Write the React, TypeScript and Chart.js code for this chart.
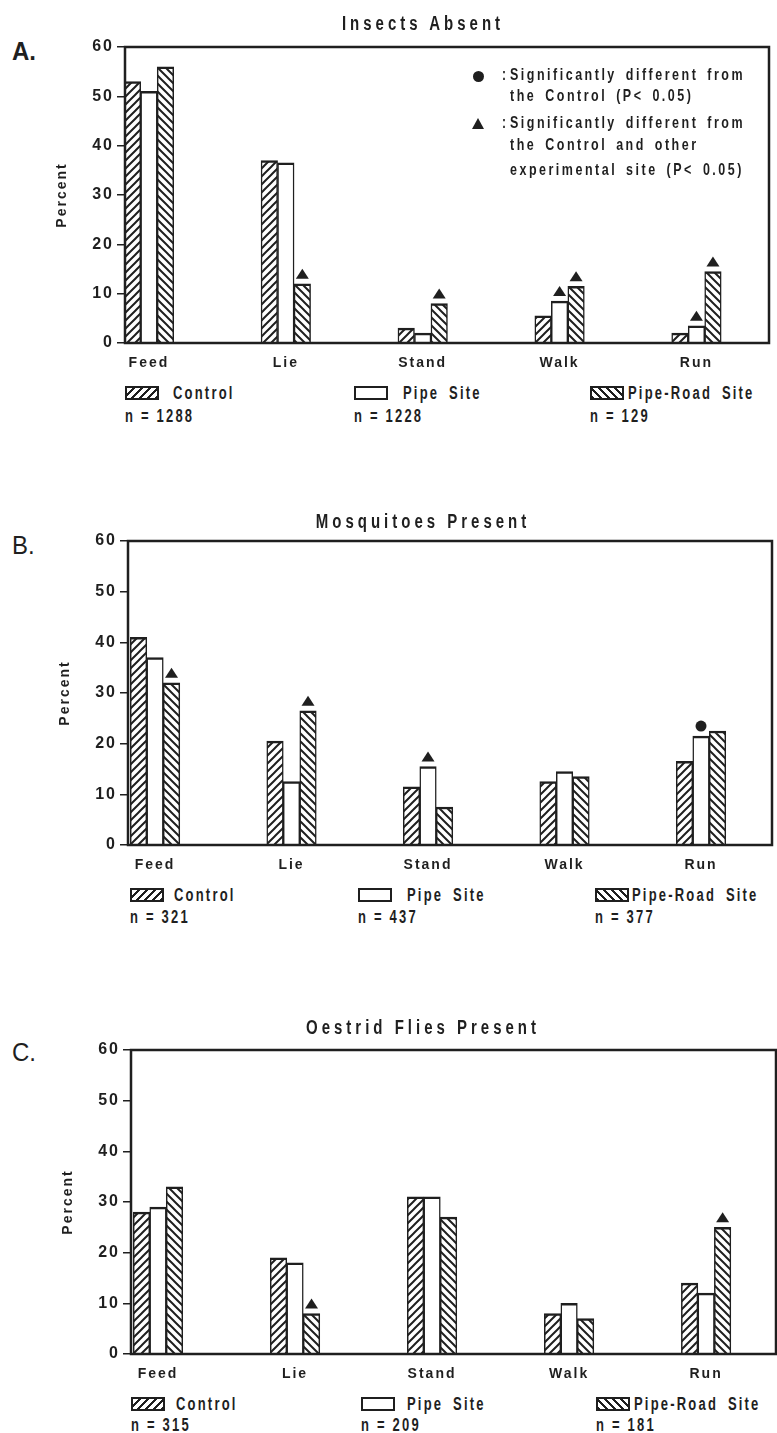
import React, { useEffect, useRef } from 'react';
import { Chart, registerables } from 'chart.js';

Chart.register(...registerables);

// ---------------- data ----------------
const categories = ['Feed', 'Lie', 'Stand', 'Walk', 'Run'];
const seriesNames = ['Control', 'Pipe Site', 'Pipe-Road Site'];
const yTickStep = 10;
const yMax = 60;

// A. Insects Absent
const controlA = [53, 37, 3, 5.5, 2];
const pipeA = [51, 36.5, 2, 8.5, 3.5];
const pipeRoadA = [56, 12, 8, 11.5, 14.5];
const countsA = ['n = 1288', 'n = 1228', 'n = 129'];
const trianglesA = [[2, 1], [2, 2], [1, 3], [2, 3], [1, 4], [2, 4]];
const dotsA: number[][] = [];

// B. Mosquitoes Present
const controlB = [41, 20.5, 11.5, 12.5, 16.5];
const pipeB = [37, 12.5, 15.5, 14.5, 21.5];
const pipeRoadB = [32, 26.5, 7.5, 13.5, 22.5];
const countsB = ['n = 321', 'n = 437', 'n = 377'];
const trianglesB = [[2, 0], [2, 1], [1, 2]];
const dotsB = [[1, 4]];

// C. Oestrid Flies Present
const controlC = [28, 19, 31, 8, 14];
const pipeC = [29, 18, 31, 10, 12];
const pipeRoadC = [33, 8, 27, 7, 25];
const countsC = ['n = 315', 'n = 209', 'n = 181'];
const trianglesC = [[2, 1], [2, 4]];
const dotsC: number[][] = [];

const sigLegend = [
  'Significantly different from',
  'the Control (P< 0.05)',
  'Significantly different from',
  'the Control and other',
  'experimental site (P< 0.05)',
];

// ---------------- style ----------------
const INK = '#1f1f1f';
const FONT = "'Liberation Sans', Arial, sans-serif";

const panels = [
  {
    letter: 'A.', letterWeight: 'bold', letterY: 52,
    title: 'Insects Absent', titleY: 23,
    top: 47, bottom: 343, left: 125, right: 769, xMin: -0.175, xMax: 4.53,
    series: [controlA, pipeA, pipeRoadA], counts: countsA,
    triangles: trianglesA, dots: dotsA,
    legendY: 393, nY: 416, swatchX: [125, 354, 590], textX: [173, 403, 628],
    sig: true,
  },
  {
    letter: 'B.', letterWeight: 'normal', letterY: 546,
    title: 'Mosquitoes Present', titleY: 521,
    top: 541, bottom: 845, left: 128, right: 772, xMin: -0.198, xMax: 4.52,
    series: [controlB, pipeB, pipeRoadB], counts: countsB,
    triangles: trianglesB, dots: dotsB,
    legendY: 895, nY: 917, swatchX: [130, 358, 595], textX: [174, 407, 632],
    sig: false,
  },
  {
    letter: 'C.', letterWeight: 'normal', letterY: 1053,
    title: 'Oestrid Flies Present', titleY: 1027,
    top: 1050, bottom: 1354, left: 131, right: 776, xMin: -0.197, xMax: 4.51,
    series: [controlC, pipeC, pipeRoadC], counts: countsC,
    triangles: trianglesC, dots: dotsC,
    legendY: 1404, nY: 1425, swatchX: [131, 361, 596], textX: [176, 407, 634],
    sig: false,
  },
];

const Y_AXIS_W = 85;
const X_AXIS_H = 32;
const PAD_TOP = 17;
const PAD_RIGHT = 8;

function makeHatch(dir: 'fwd' | 'back' | 'none'): CanvasPattern | string {
  if (dir === 'none') return '#ffffff';
  const s = 8;
  const c = document.createElement('canvas');
  c.width = s;
  c.height = s;
  const g = c.getContext('2d')!;
  g.fillStyle = '#ffffff';
  g.fillRect(0, 0, s, s);
  g.strokeStyle = INK;
  g.lineWidth = 2;
  g.beginPath();
  if (dir === 'fwd') {
    g.moveTo(-2, s + 2); g.lineTo(s + 2, -2);
    g.moveTo(-2, 2); g.lineTo(2, -2);
    g.moveTo(s - 2, s + 2); g.lineTo(s + 2, s - 2);
  } else {
    g.moveTo(-2, -2); g.lineTo(s + 2, s + 2);
    g.moveTo(-2, s - 2); g.lineTo(2, s + 2);
    g.moveTo(s - 2, -2); g.lineTo(s + 2, 2);
  }
  g.stroke();
  return g.createPattern(c, 'repeat')!;
}

const framePlugin = {
  id: 'frameMarks',
  beforeDraw(chart: any) {
    (chart.ctx as any).letterSpacing = '2px';
  },
  afterDatasetsDraw(chart: any, _args: any, opts: any) {
    const { ctx, chartArea: a } = chart;
    ctx.save();
    ctx.strokeStyle = INK;
    ctx.lineWidth = 2.5;
    ctx.strokeRect(a.left, a.top, a.right - a.left, a.bottom - a.top);
    ctx.fillStyle = INK;
    (opts.triangles || []).forEach(([s, i]: number[]) => {
      const el = chart.getDatasetMeta(s).data[i];
      const bx = el.x;
      const base = el.y - 5;
      ctx.beginPath();
      ctx.moveTo(bx - 6.5, base);
      ctx.lineTo(bx + 6.5, base);
      ctx.lineTo(bx, base - 10);
      ctx.closePath();
      ctx.fill();
    });
    (opts.dots || []).forEach(([s, i]: number[]) => {
      const el = chart.getDatasetMeta(s).data[i];
      ctx.beginPath();
      ctx.arc(el.x, el.y - 10, 5.5, 0, Math.PI * 2);
      ctx.fill();
    });
    ctx.restore();
  },
};

function Txt(props: {
  x: number; y: number; text: string; size: number; weight?: string;
  spacing?: number; sy?: number; center?: boolean; wordSpacing?: number;
}) {
  const { x, y, text, size, weight = 'bold', spacing = 2, sy = 1.35, center = false, wordSpacing = 0 } = props;
  return (
    <div
      style={{
        position: 'absolute', left: x, top: y, fontFamily: FONT, fontSize: size,
        fontWeight: weight as any, letterSpacing: spacing, wordSpacing, lineHeight: 1,
        whiteSpace: 'nowrap', color: INK,
        transform: `translate(${center ? '-50%' : '0'}, -50%) scaleY(${sy})`,
        transformOrigin: 'center',
      }}
    >
      {text}
    </div>
  );
}

const swatchBg = [
  'repeating-linear-gradient(-45deg, #1f1f1f 0 2px, #fff 2px 5.6px)',
  '#fff',
  'repeating-linear-gradient(45deg, #1f1f1f 0 2px, #fff 2px 5.6px)',
];

function Panel({ p }: { p: typeof panels[number] }) {
  const ref = useRef<HTMLCanvasElement>(null);
  const cl = p.left - Y_AXIS_W;
  const ct = p.top - PAD_TOP;
  const cw = p.right + PAD_RIGHT - cl;
  const ch = p.bottom + X_AXIS_H - ct;

  useEffect(() => {
    const fills = [makeHatch('fwd'), makeHatch('none'), makeHatch('back')];
    const chart = new Chart(ref.current!, {
      type: 'bar',
      data: {
        datasets: p.series.map((vals, s) => ({
          label: seriesNames[s],
          data: vals.map((v, i) => ({ x: i, y: v })),
          backgroundColor: fills[s] as any,
          borderColor: INK,
          borderWidth: { top: 2.5, left: 1.5, right: 1.5, bottom: 0 },
          borderSkipped: false,
          barThickness: 16.5,
        })),
      },
      options: {
        animation: false,
        responsive: false,
        devicePixelRatio: 1,
        layout: { padding: { top: PAD_TOP, right: PAD_RIGHT, left: 0, bottom: 0 } },
        plugins: {
          legend: { display: false },
          tooltip: { enabled: false },
          frameMarks: { triangles: p.triangles, dots: p.dots },
        } as any,
        scales: {
          x: {
            type: 'linear',
            min: p.xMin,
            max: p.xMax,
            offset: false,
            grid: { display: false, drawTicks: false },
            border: { display: false },
            afterBuildTicks: (axis: any) => {
              axis.ticks = categories.map((_, i) => ({ value: i }));
            },
            afterFit: (s: any) => { s.height = X_AXIS_H; },
            ticks: {
              autoSkip: false,
              maxRotation: 0,
              padding: 12,
              color: INK,
              font: { family: FONT, size: 14, weight: 'bold' },
              callback: (v: any) => categories[v] ?? '',
            },
          },
          y: {
            min: 0,
            max: yMax,
            afterFit: (s: any) => { s.width = Y_AXIS_W; },
            ticks: {
              stepSize: yTickStep,
              padding: 3,
              color: INK,
              font: { family: FONT, size: 16, weight: 'bold' },
            },
            grid: { drawOnChartArea: false, drawTicks: true, tickLength: 8, color: INK, lineWidth: 1.5 },
            border: { display: false },
            title: {
              display: true,
              text: 'Percent',
              color: INK,
              font: { family: FONT, size: 14, weight: 'bold' },
              padding: { top: 14, bottom: 0 },
            },
          },
        },
      } as any,
      plugins: [framePlugin],
    });
    return () => chart.destroy();
  }, []);

  return (
    <>
      <canvas ref={ref} width={cw} height={ch} style={{ position: 'absolute', left: cl, top: ct }} />
      <Txt x={12} y={p.letterY} text={p.letter} size={24} weight={p.letterWeight} spacing={0} sy={1.05} />
      <Txt x={423} y={p.titleY} text={p.title} size={15} spacing={4} center />
      {seriesNames.map((name, s) => (
        <React.Fragment key={name}>
          <div
            style={{
              position: 'absolute', left: p.swatchX[s], top: p.legendY - 7, width: 34, height: 14,
              border: `2px solid ${INK}`, boxSizing: 'border-box', background: swatchBg[s],
            }}
          />
          <Txt x={p.textX[s]} y={p.legendY} text={name} size={13} spacing={2.2} wordSpacing={4} />
          <Txt x={p.swatchX[s]} y={p.nY} text={p.counts[s]} size={13} spacing={2.2} />
        </React.Fragment>
      ))}
      {p.sig && (
        <>
          <div style={{ position: 'absolute', left: 472.5, top: 70.5, width: 11, height: 11, borderRadius: '50%', background: INK }} />
          <div
            style={{
              position: 'absolute', left: 471.5, top: 118, width: 0, height: 0,
              borderLeft: '6.5px solid transparent', borderRight: '6.5px solid transparent',
              borderBottom: `11px solid ${INK}`,
            }}
          />
          <Txt x={502} y={75} text=":" size={12} spacing={0} />
          <Txt x={502} y={123} text=":" size={12} spacing={0} />
          {sigLegend.map((line, i) => (
            <Txt key={i} x={510} y={[75, 96, 123, 145, 170][i]} text={line} size={12.5} spacing={2.5} wordSpacing={3} />
          ))}
        </>
      )}
    </>
  );
}

export default function App() {
  return (
    <div
      style={{
        position: 'absolute', left: 0, top: 0, width: 777, height: 1433,
        overflow: 'hidden', background: '#fff',
      }}
    >
      {panels.map((p) => (
        <Panel key={p.letter} p={p} />
      ))}
    </div>
  );
}
